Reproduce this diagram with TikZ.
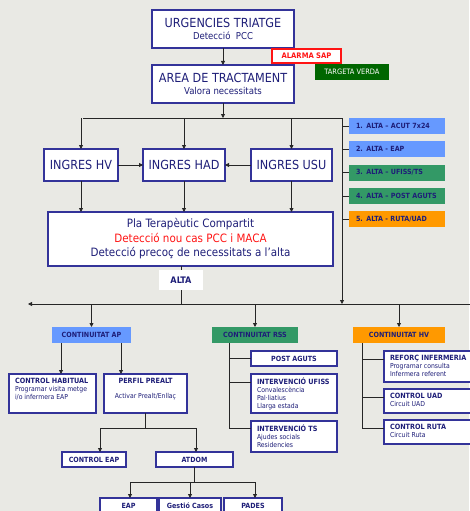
\documentclass[tikz,border=0pt]{standalone}
\usepackage{fontspec}
\setmainfont{DejaVu Sans Condensed}
\usetikzlibrary{arrows.meta}

\definecolor{bgc}{RGB}{233,233,228}
\definecolor{navyline}{RGB}{51,51,153}
\definecolor{navytxt}{RGB}{30,30,120}
\definecolor{altablue}{RGB}{102,153,255}
\definecolor{altagreen}{RGB}{51,153,102}
\definecolor{altaorange}{RGB}{255,153,0}
\definecolor{darkgreen}{RGB}{0,102,0}
\definecolor{alarmred}{RGB}{255,20,20}

\newcommand{\bigf}{\fontsize{12.5}{14}\selectfont}
\newcommand{\midf}{\fontsize{9.5}{11}\selectfont}
\newcommand{\plaf}{\fontsize{11.5}{14.5}\selectfont}
\newcommand{\tagf}{\fontsize{7.1}{8}\selectfont\bfseries}
\newcommand{\smallf}{\fontsize{6.8}{7.8}\selectfont}
\newcommand{\ttl}[1]{{\fontsize{7.2}{8.5}\selectfont\bfseries #1}}
\newcommand{\mytopbox}[3]{\parbox[c][#1][t]{#2}{#3}}

\tikzset{
  every node/.style={inner sep=0pt, outer sep=0pt},
  wbox/.style={draw=navyline, fill=white, line width=1.1pt, text=navytxt},
  lbox/.style={wbox, anchor=north west, inner xsep=6pt, inner ysep=4pt, font=\smallf},
  tagbox/.style={fill=#1, text=navytxt, font=\tagf, anchor=west,
    inner xsep=7pt, text width=82pt, align=left, minimum height=16pt},
  contbox/.style={fill=#1, text=navytxt, font=\tagf, minimum height=16pt},
  smallbox/.style={wbox, font=\tagf, minimum height=15pt},
  conn/.style={line width=0.8pt, draw=black!85},
  arr/.style={conn, -{Triangle[length=4pt,width=4pt]}},
}

\begin{document}
\begin{tikzpicture}[x=1pt, y=-1pt]
  \fill[bgc] (0,0) rectangle (469,511);
  \useasboundingbox (0,0) rectangle (469,511);

  % --- entry and treatment area
  \node[wbox, minimum width=142pt, minimum height=38pt, align=center] (urg) at (223,29)
    {{\bigf URGENCIES TRIATGE}\\[0pt]{\midf Detecció\ \ PCC}};
  \node[wbox, minimum width=142pt, minimum height=38pt, align=center] (area) at (223,84)
    {{\bigf AREA DE TRACTAMENT}\\[0pt]{\midf Valora necessitats}};
  \node[draw=alarmred, fill=white, line width=1.1pt, text=alarmred,
    font=\fontsize{7.6}{8}\selectfont\bfseries, minimum width=69pt, minimum height=14pt]
    (alarm) at (306.5,56) {ALARMA SAP};
  \node[fill=darkgreen, text=white, font=\fontsize{7.4}{8}\selectfont,
    minimum width=74pt, minimum height=16pt] (verda) at (352,72) {TARGETA VERDA};

  % --- admissions
  \node[wbox, minimum width=74pt, minimum height=32pt, font=\bigf] (hv) at (81,165) {INGRES HV};
  \node[wbox, minimum width=82pt, minimum height=32pt, font=\bigf] (had) at (184,165) {INGRES HAD};
  \node[wbox, minimum width=81pt, minimum height=32pt, font=\bigf] (usu) at (291.5,165) {INGRES USU};

  % --- discharge routes
  \node[tagbox=altablue]   (a1) at (349,126) {1. ALTA -- ACUT 7x24};
  \node[tagbox=altablue]   (a2) at (349,149) {2. ALTA - EAP};
  \node[tagbox=altagreen]  (a3) at (349,172.5) {3. ALTA -- UFISS/TS};
  \node[tagbox=altagreen]  (a4) at (349,196) {4. ALTA -- POST AGUTS};
  \node[tagbox=altaorange] (a5) at (349,219) {5. ALTA - RUTA/UAD};

  % --- shared therapeutic plan
  \node[wbox, minimum width=285pt, minimum height=54pt, align=center, font=\plaf] (pla) at (190.5,239)
    {Pla Terapèutic Compartit\\
     \textcolor{alarmred}{Detecció nou cas PCC i MACA}\\
     Detecció precoç de necessitats a l’alta};
  \node[fill=white, text=navytxt, font=\fontsize{9}{10}\selectfont\bfseries,
    minimum width=44pt, minimum height=20pt] (alta) at (181,280) {ALTA};

  % --- continuity
  \node[contbox=altablue,   minimum width=79pt] (ap)  at (91.5,335) {CONTINUITAT AP};
  \node[contbox=altagreen,  minimum width=86pt] (rss) at (255,335)  {CONTINUITAT RSS};
  \node[contbox=altaorange, minimum width=92pt] (hvc) at (399,335)  {CONTINUITAT HV};

  % --- primary care branch
  \node[lbox] (chab) at (9,374) {\mytopbox{31pt}{75pt}{\ttl{CONTROL HABITUAL}\\[0.5pt]
    Programar visita metge\\ i/o infermera EAP}};
  \node[lbox] (perfil) at (104,374) {\mytopbox{31pt}{71pt}{\centering\ttl{PERFIL PREALT}\\[7.5pt]
    Activar Prealt/Enllaç}};
  \node[smallbox, minimum width=64pt] (cea) at (94,459.5) {CONTROL EAP};
  \node[smallbox, minimum width=77pt] (atdom) at (194.5,459.5) {ATDOM};
  \node[smallbox, minimum width=57pt, minimum height=16pt] (eap) at (128.5,506) {EAP};
  \node[smallbox, minimum width=62pt, minimum height=16pt] (gcas) at (190,506) {Gestió Casos};
  \node[smallbox, minimum width=58pt, minimum height=16pt] (pades) at (253,506) {PADES};

  % --- social and health resources branch
  \node[smallbox, minimum width=86pt] (post) at (294,358.5) {POST AGUTS};
  \node[lbox] (ufiss) at (251,374) {\mytopbox{31pt}{74pt}{\ttl{INTERVENCIÓ UFISS}\\[0.5pt]
    Convalescència\\ Pal·liatius\\ Llarga estada}};
  \node[lbox] (ts) at (251,421) {\mytopbox{23pt}{74pt}{\ttl{INTERVENCIÓ TS}\\[0.5pt]
    Ajudes socials\\ Residencies}};

  % --- hospital branch
  \node[lbox] (reforc) at (384,351) {\mytopbox{23pt}{84pt}{\ttl{REFORÇ INFERMERIA}\\[0.5pt]
    Programar consulta\\ Infermera referent}};
  \node[lbox] (uad) at (384,389) {\mytopbox{16pt}{84pt}{\ttl{CONTROL UAD}\\[0.5pt] Circuit UAD}};
  \node[lbox] (ruta) at (384,420) {\mytopbox{16pt}{84pt}{\ttl{CONTROL RUTA}\\[0.5pt] Circuit Ruta}};

  % --- connectors: top part
  \coordinate (hl) at (83,118);
  \coordinate (hr) at (342,118);
  \coordinate (ml) at (28,304);
  \coordinate (mr) at (475,304);

  \draw[arr] (urg.south) -- (area.north);
  \draw[conn] (hl) -- (hr);
  \draw[arr] (area.south) -- (area.south |- hl);
  \draw[arr] (hv.north |- hl) -- (hv.north);
  \draw[arr] (had.north |- hl) -- (had.north);
  \draw[arr] (usu.north |- hl) -- (usu.north);
  \draw[arr] (hv.east) -- (had.west);
  \draw[arr] (usu.west) -- (had.east);
  \foreach \t in {a1,a2,a3,a4,a5} \draw[conn] (hr |- \t.west) -- (\t.west);

  \draw[arr] (hv.south) -- (hv.south |- pla.north);
  \draw[arr] (had.south) -- (had.south |- pla.north);
  \draw[arr] (usu.south) -- (usu.south |- pla.north);

  % --- discharge line
  \draw[conn] (alta.north |- pla.south) -- (alta.north);
  \draw[conn] (alta.south) -- (alta.south |- ml);
  \draw[arr] (mr) -- (ml);
  \draw[arr] (hr) -- (hr |- ml);
  \draw[arr] (ap.north |- ml) -- (ap.north);
  \draw[arr] (rss.north |- ml) -- (rss.north);
  \draw[arr] (hvc.north |- ml) -- (hvc.north);

  % --- primary care connectors
  \coordinate (apl) at ([xshift=-30.5pt]ap.south);
  \coordinate (apr) at ([xshift=29.5pt]ap.south);
  \draw[arr] (apl) -- (apl |- chab.north);
  \draw[arr] (apr) -- (apr |- perfil.north);
  \coordinate (f1) at (100,428);
  \coordinate (f2) at (196,428);
  \draw[conn] (perfil.south) -- (perfil.south |- f1);
  \draw[conn] (f1) -- (f2);
  \draw[arr] (f1) -- (f1 |- cea.north);
  \draw[arr] (f2) -- (f2 |- atdom.north);
  \coordinate (f3) at (130,482);
  \coordinate (f4) at (255,482);
  \draw[conn] (atdom.south) -- (atdom.south |- f3);
  \draw[conn] (f3) -- (f4);
  \draw[arr] (f3) -- (f3 |- eap.north);
  \draw[arr] (gcas.north |- f3) -- (gcas.north);
  \draw[arr] (f4) -- (f4 |- pades.north);

  % --- social and health resources connectors
  \coordinate (rv) at (229,428);
  \coordinate (ufin) at ([yshift=11.5pt]ufiss.west);
  \coordinate (tsin) at ([yshift=8.5pt]ts.west);
  \draw[conn] (rv |- rss.south) -- (rv);
  \draw[conn] (rv |- post.west) -- (post.west);
  \draw[conn] (rv |- ufin) -- (ufin);
  \draw[conn] (rv |- tsin) -- (tsin);

  % --- hospital connectors
  \coordinate (hvv) at (362,428);
  \coordinate (rfin) at ([yshift=7.5pt]reforc.west);
  \coordinate (uadin) at ([yshift=4pt]uad.west);
  \coordinate (rtin) at ([yshift=4pt]ruta.west);
  \draw[conn] (hvv |- hvc.south) -- (hvv);
  \draw[conn] (hvv |- rfin) -- (rfin);
  \draw[conn] (hvv |- uadin) -- (uadin);
  \draw[conn] (hvv |- rtin) -- (rtin);
\end{tikzpicture}
\end{document}
